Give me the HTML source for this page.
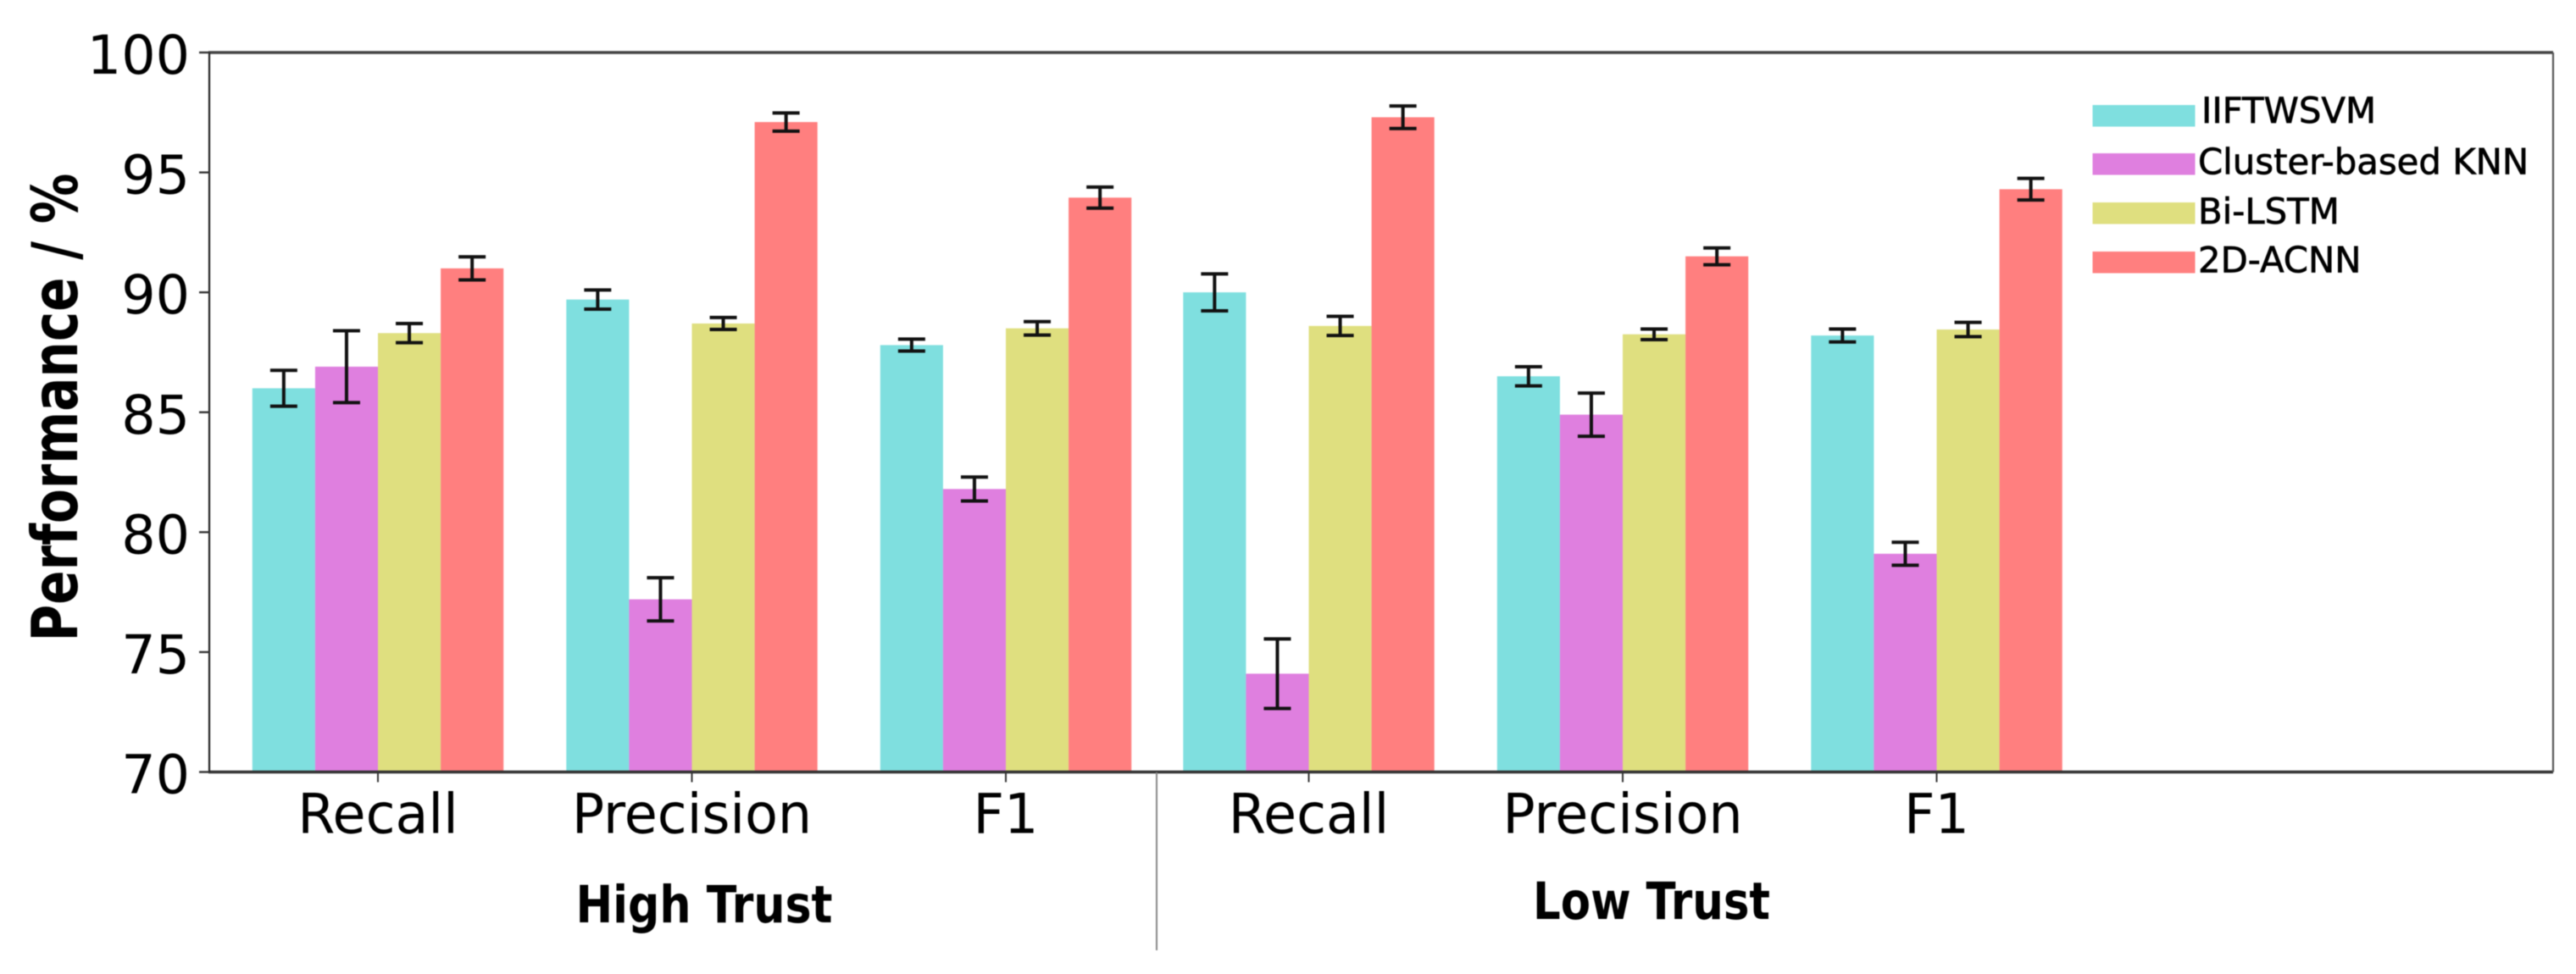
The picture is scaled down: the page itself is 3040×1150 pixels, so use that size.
<!DOCTYPE html>
<html lang="en">
<head>
<meta charset="utf-8">
<title>Performance by trust level</title>
<style>
html,body{margin:0;padding:0;background:#fff;width:3040px;height:1150px;overflow:hidden}
svg{display:block;filter:blur(0.6px)}
text{font-family:"DejaVu Sans","Liberation Sans",sans-serif;fill:#000}
</style>
</head>
<body>
<svg id="chart" xmlns="http://www.w3.org/2000/svg" width="3040" height="1150" viewBox="0 0 3040 1150">
<g id="bars"></g>
<g id="errors"></g>
<g id="axes"></g>
<text transform="translate(91,481) rotate(-90)" text-anchor="middle" font-size="75" font-weight="bold" textLength="553" lengthAdjust="spacingAndGlyphs">Performance / %</text>
<text x="831" y="1089" text-anchor="middle" font-size="61" font-weight="bold" textLength="303" lengthAdjust="spacingAndGlyphs">High Trust</text>
<text x="1949" y="1085" text-anchor="middle" font-size="61" font-weight="bold" textLength="280" lengthAdjust="spacingAndGlyphs">Low Trust</text>
<line x1="1365" y1="912" x2="1365" y2="1122" stroke="#888" stroke-width="2"/>
<g id="legend"></g>
</svg>
<script>
const categories = ['Recall', 'Precision', 'F1', 'Recall', 'Precision', 'F1'];
const seriesNames = ['IIFTWSVM', 'Cluster-based KNN', 'Bi-LSTM', '2D-ACNN'];
const seriesColors = ['#7fdfdf', '#df7fdf', '#dfdf7f', '#ff7f7f'];
const iiftwsvmValues = [86.0, 89.7, 87.8, 90.0, 86.5, 88.2];
const clusterKnnValues = [86.9, 77.2, 81.8, 74.1, 84.9, 79.1];
const biLstmValues = [88.3, 88.7, 88.5, 88.6, 88.25, 88.45];
const acnnValues = [91.0, 97.1, 93.95, 97.3, 91.5, 94.3];
const iiftwsvmErrors = [0.75, 0.4, 0.25, 0.77, 0.4, 0.27];
const clusterKnnErrors = [1.5, 0.9, 0.5, 1.45, 0.9, 0.48];
const biLstmErrors = [0.4, 0.25, 0.28, 0.4, 0.22, 0.3];
const acnnErrors = [0.48, 0.38, 0.44, 0.47, 0.35, 0.45];
const yTicks = [70, 75, 80, 85, 90, 95, 100];

const seriesValues = [iiftwsvmValues, clusterKnnValues, biLstmValues, acnnValues];
const seriesErrors = [iiftwsvmErrors, clusterKnnErrors, biLstmErrors, acnnErrors];
const NS = 'http://www.w3.org/2000/svg';
const plotLeft = 247, plotRight = 3013, plotTop = 62, plotBottom = 911.5;
const barWidth = 74.1, groupSpacing = 370.5, firstCenter = 446, panelShift = -13;

function yScale(v) { return plotBottom - (v - 70) / 30 * (plotBottom - plotTop); }
function groupCenter(i) { return firstCenter + i * groupSpacing + (i >= 3 ? panelShift : 0); }
function make(parent, tag, attrs) {
  const el = document.createElementNS(NS, tag);
  for (const k in attrs) el.setAttribute(k, attrs[k]);
  parent.appendChild(el);
  return el;
}

const barsG = document.getElementById('bars');
const errorsG = document.getElementById('errors');
const axesG = document.getElementById('axes');
const legendG = document.getElementById('legend');

seriesValues.forEach((values, s) => {
  values.forEach((v, i) => {
    const x = groupCenter(i) + (s - 2) * barWidth;
    const bar = make(barsG, 'rect', { x: x, y: yScale(v), width: barWidth, height: plotBottom - yScale(v), fill: seriesColors[s] });
    
    
    const cx = x + barWidth / 2;
    const e = seriesErrors[s][i];
    const err = make(errorsG, 'path', {
      d: 'M' + (cx - 16) + ' ' + yScale(v + e) + 'H' + (cx + 16) +
         'M' + cx + ' ' + yScale(v + e) + 'V' + yScale(v - e) +
         'M' + (cx - 16) + ' ' + yScale(v - e) + 'H' + (cx + 16),
      fill: 'none', stroke: '#111', 'stroke-width': 4
    });
    
    
  });
});

const topSpine = make(axesG, 'line', { x1: plotLeft - 1, y1: plotTop, x2: plotRight, y2: plotTop, stroke: '#444', 'stroke-width': 3.5 });


const bottomSpine = make(axesG, 'line', { x1: plotLeft - 1, y1: plotBottom, x2: plotRight, y2: plotBottom, stroke: '#333', 'stroke-width': 3.5 });


const leftSpine = make(axesG, 'line', { x1: plotLeft, y1: plotTop, x2: plotLeft, y2: plotBottom, stroke: '#222', 'stroke-width': 2.2 });


const rightSpine = make(axesG, 'line', { x1: plotRight, y1: plotTop, x2: plotRight, y2: plotBottom, stroke: '#555', 'stroke-width': 2.2 });



yTicks.forEach(t => {
  const tick = make(axesG, 'line', { x1: plotLeft - 12, y1: yScale(t), x2: plotLeft, y2: yScale(t), stroke: '#333', 'stroke-width': 2.4 });
  
  
  const label = make(axesG, 'text', { x: 224, y: yScale(t) + 25, 'text-anchor': 'end', 'font-size': 63.5 });
  label.textContent = t;
  
  
});

categories.forEach((c, i) => {
  const cx = groupCenter(i);
  const tick = make(axesG, 'line', { x1: cx, y1: plotBottom, x2: cx, y2: plotBottom + 12, stroke: '#333', 'stroke-width': 2 });
  
  
  const label = make(axesG, 'text', { transform: 'translate(' + cx + ',983.5) scale(0.977,1)', 'text-anchor': 'middle', 'font-size': 65 });
  label.textContent = c;
  
  
});

const legendSwatchY = [124, 181, 239, 297];
const legendTextX = [2598, 2594, 2594, 2594];
const legendTextY = [145, 205.5, 264, 321.5];
seriesNames.forEach((n, s) => {
  const swatch = make(legendG, 'rect', { x: 2469.5, y: legendSwatchY[s], width: 121, height: 25.5, fill: seriesColors[s] });
  
  
  const label = make(legendG, 'text', { x: legendTextX[s], y: legendTextY[s], 'font-size': 41.8, stroke: '#000', 'stroke-width': 0.7 });
  label.textContent = n;
  
  
});
</script>
</body>
</html>
